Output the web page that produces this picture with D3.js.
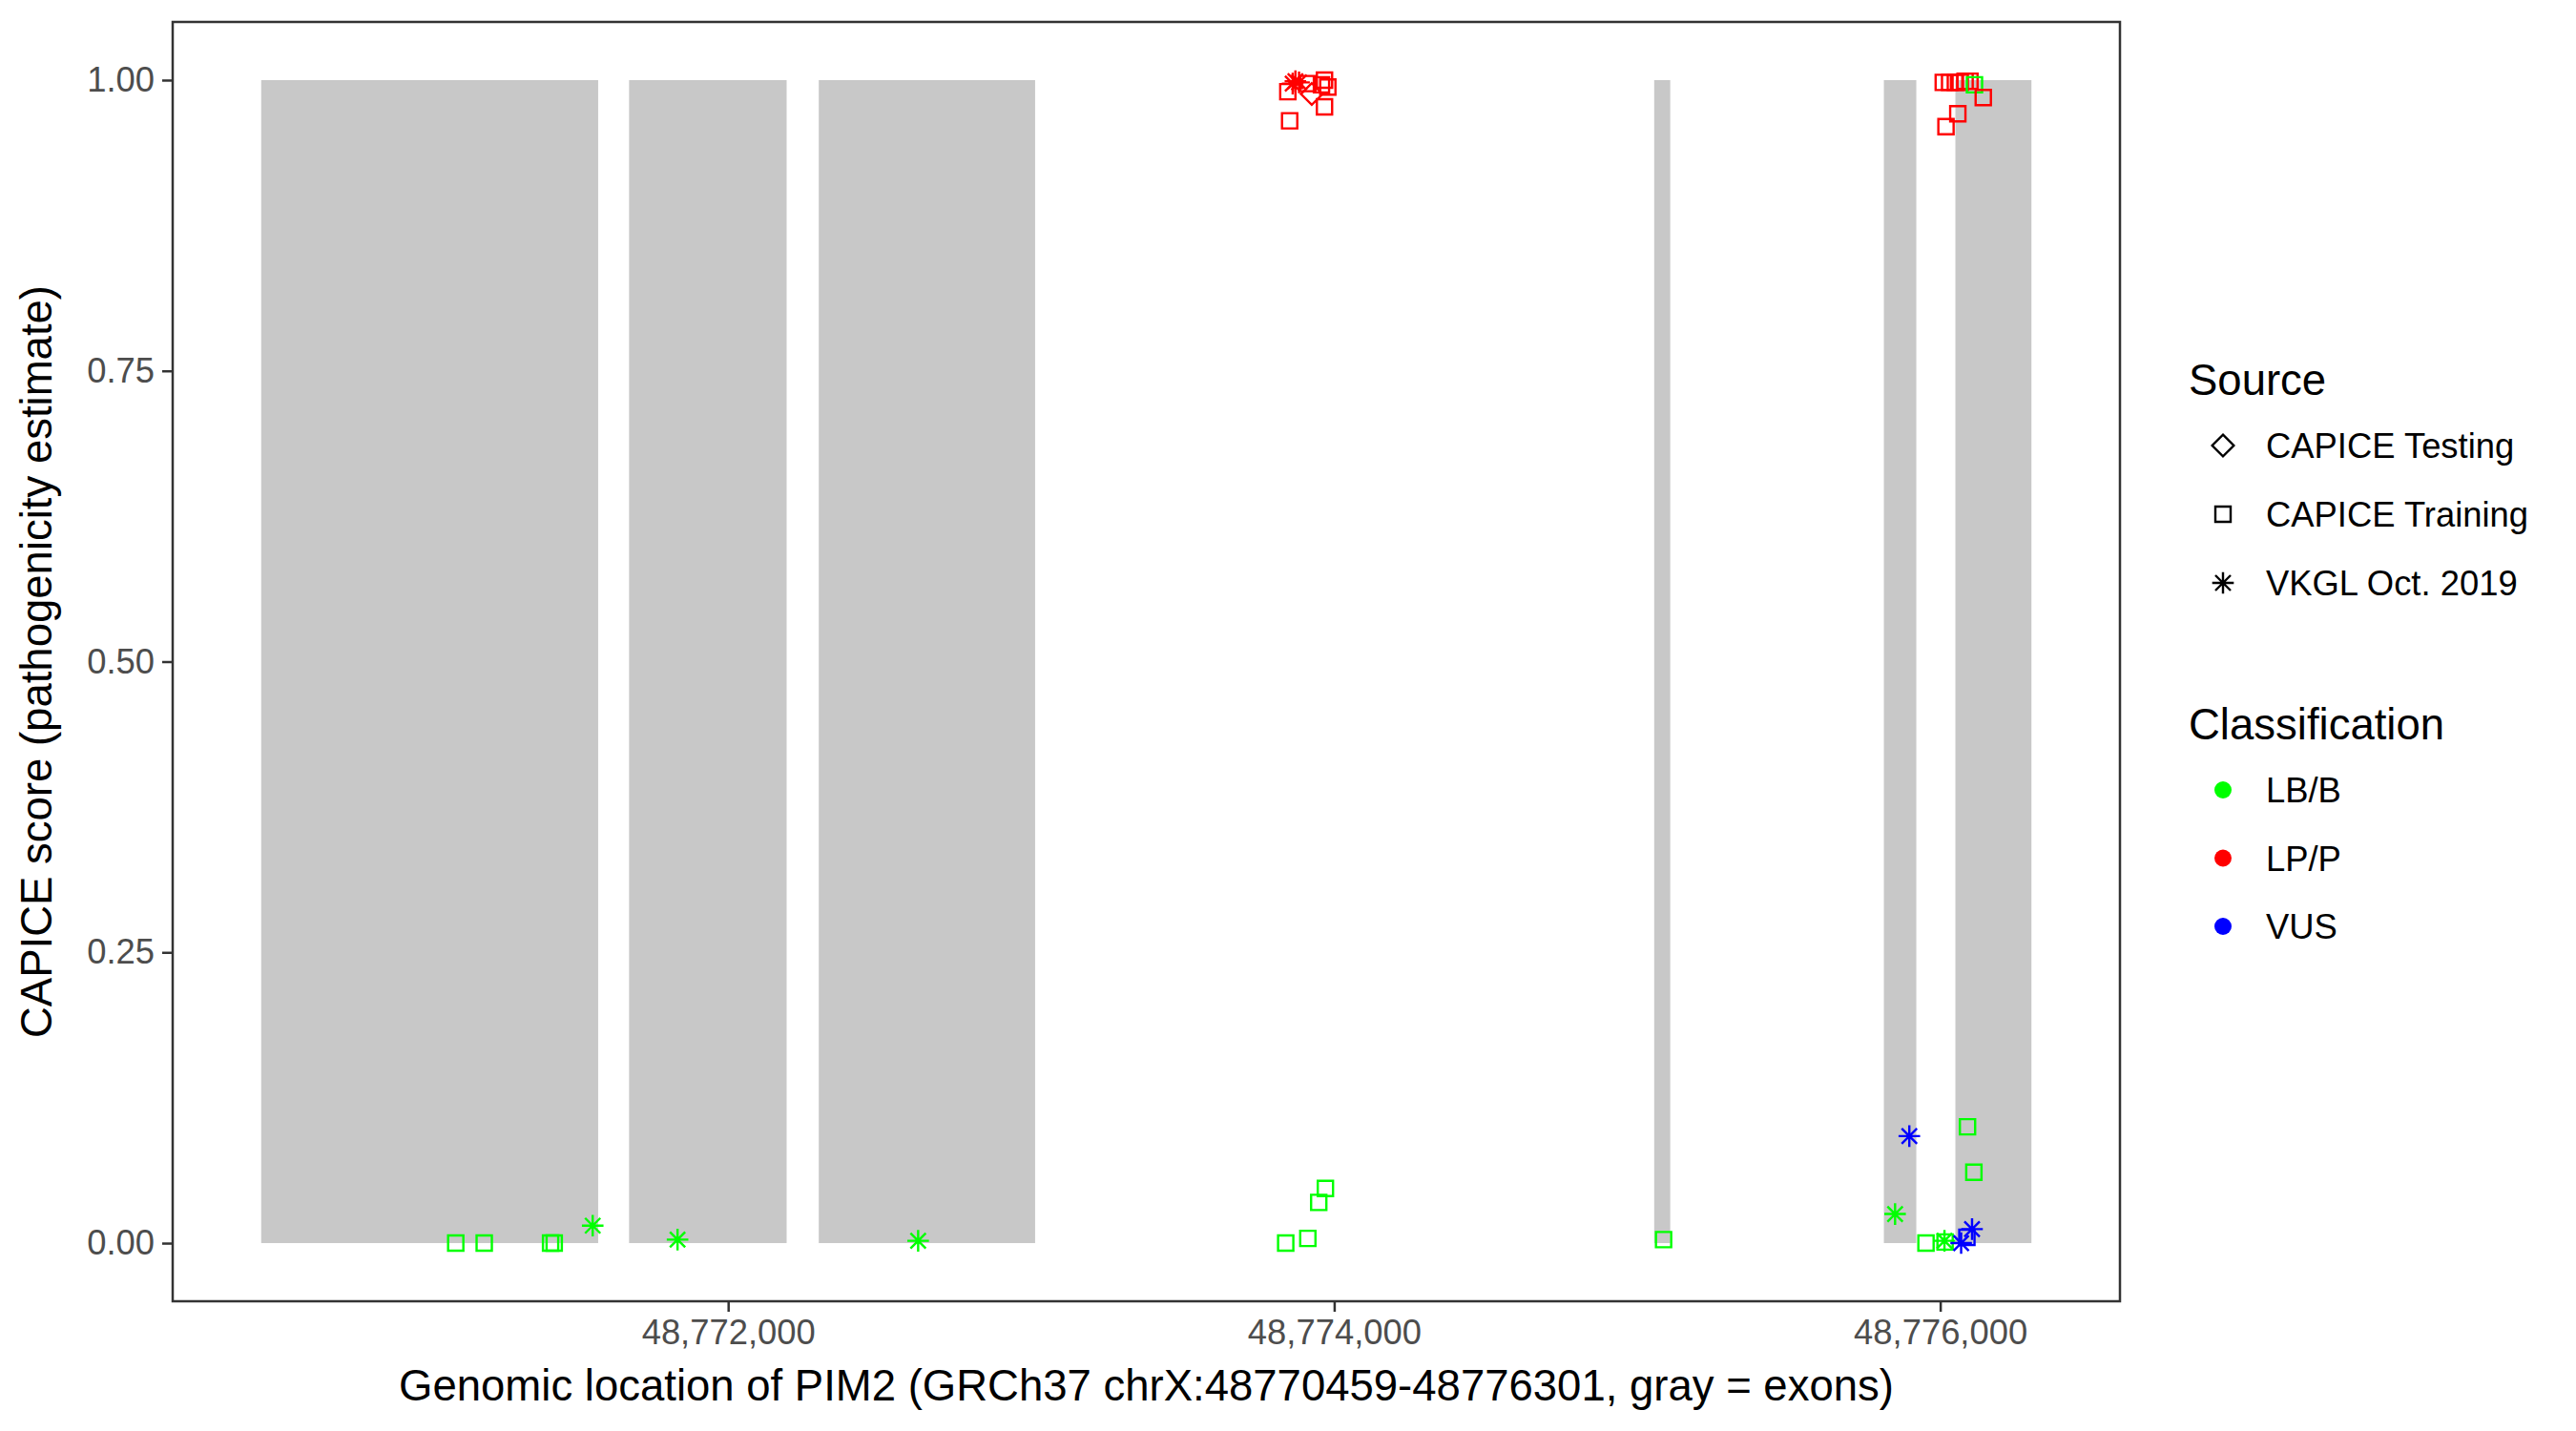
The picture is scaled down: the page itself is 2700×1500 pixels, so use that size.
<!DOCTYPE html>
<html>
<head>
<meta charset="utf-8">
<script src="https://cdn.jsdelivr.net/npm/d3@7"></script>
<style>
  html, body { margin: 0; padding: 0; background: #ffffff; }
  svg { display: block; font-family: "Liberation Sans", Arial, sans-serif; }
</style>
</head>
<body>
<div id="chart"></div>
<script>
// gene region and exons (GRCh37 chrX)
var geneStart = 48770459;
var geneEnd = 48776301;
var exonStarts = [48770459, 48771673, 48772299, 48775056, 48775814, 48776050];
var exonEnds   = [48771571, 48772193, 48773013, 48775109, 48775921, 48776301];

// variants: position, CAPICE score, source, classification
var varPos = [
  48771101, 48771195, 48771414, 48771426, 48771553, 48771833, 48772627,
  48773971, 48773949, 48773913, 48773840, 48775087,
  48775898, 48776090, 48776111, 48775851, 48775953, 48776014, 48776016,
  48776069, 48776105, 48776088,
  48773853, 48773847, 48773863, 48773884, 48773913, 48773926, 48773968,
  48773968, 48773979, 48773958, 48773872,
  48776010, 48776031, 48776050, 48776066, 48776082, 48776098, 48776113,
  48776142, 48776058, 48776019
];
var varScore = [
  0.000, 0.000, 0.000, 0.000, 0.015, 0.003, 0.002,
  0.047, 0.035, 0.004, 0.000, 0.003,
  0.092, 0.100, 0.061, 0.025, 0.000, 0.002, 0.001,
  0.000, 0.012, 0.005,
  0.965, 0.990, 0.997, 0.998, 0.997, 0.988, 0.977,
  1.000, 0.994, 0.996, 0.999,
  0.998, 0.998, 0.998, 0.998, 0.999, 0.999, 0.996,
  0.985, 0.971, 0.960
];
var varSource = [
  'Training', 'Training', 'Training', 'Training', 'VKGL', 'VKGL', 'VKGL',
  'Training', 'Training', 'Training', 'Training', 'Training',
  'VKGL', 'Training', 'Training', 'VKGL', 'Training', 'VKGL', 'Training',
  'VKGL', 'VKGL', 'Training',
  'Training', 'Training', 'VKGL', 'VKGL', 'Training', 'Testing', 'Training',
  'Training', 'Training', 'Training', 'VKGL',
  'Training', 'Training', 'Training', 'Training', 'Training', 'Training', 'Training',
  'Training', 'Training', 'Training'
];
var varClass = [
  'LB/B', 'LB/B', 'LB/B', 'LB/B', 'LB/B', 'LB/B', 'LB/B',
  'LB/B', 'LB/B', 'LB/B', 'LB/B', 'LB/B',
  'VUS', 'LB/B', 'LB/B', 'LB/B', 'LB/B', 'LB/B', 'LB/B',
  'VUS', 'VUS', 'VUS',
  'LP/P', 'LP/P', 'LP/P', 'LP/P', 'LP/P', 'LP/P', 'LP/P',
  'LP/P', 'LP/P', 'LP/P', 'LP/P',
  'LP/P', 'LP/P', 'LP/P', 'LP/P', 'LP/P', 'LP/P', 'LB/B',
  'LP/P', 'LP/P', 'LP/P'
];

// legend levels
var sourceKeys = ['Testing', 'Training', 'VKGL'];
var sourceLabels = ['CAPICE Testing', 'CAPICE Training', 'VKGL Oct. 2019'];
var classKeys = ['LB/B', 'LP/P', 'VUS'];
var classColors = ['#00ff00', '#ff0000', '#0000ff'];

// axis ticks
var xTicks = [48772000, 48774000, 48776000];
var yTicks = [0, 0.25, 0.5, 0.75, 1];

var width = 2700, height = 1500;
var panel = {left: 181, right: 2222, top: 23, bottom: 1364};

var svg = d3.select('#chart')
  .append('svg')
    .attr('width', width)
    .attr('height', height);

var pad = 0.05 * (geneEnd - geneStart);
var x = d3.scaleLinear()
  .domain([geneStart - pad, geneEnd + pad])
  .range([panel.left, panel.right]);
var y = d3.scaleLinear()
  .domain([-0.05, 1.05])
  .range([panel.bottom, panel.top]);
var color = d3.scaleOrdinal().domain(classKeys).range(classColors);

// point shapes like R pch 5 / 0 / 8
function shapePath(shape, r) {
  var d = r * Math.SQRT2;
  if (shape == 'Testing') {
    return 'M0,' + (-d) + 'L' + d + ',0L0,' + d + 'L' + (-d) + ',0Z';
  }
  if (shape == 'Training') {
    return 'M' + (-r) + ',' + (-r) + 'H' + r + 'V' + r + 'H' + (-r) + 'Z';
  }
  return 'M0,' + (-d) + 'V' + d + 'M' + (-d) + ',0H' + d +
    'M' + (-r) + ',' + (-r) + 'L' + r + ',' + r +
    'M' + (-r) + ',' + r + 'L' + r + ',' + (-r);
}

// exons
var exons = exonStarts.map(function(s, i) { return {start: s, end: exonEnds[i]}; });
svg.append('g')
  .selectAll('rect')
  .data(exons)
  .enter()
  .append('rect')
    .attr('x', function(d) { return x(d.start); })
    .attr('width', function(d) { return x(d.end) - x(d.start); })
    .attr('y', y(1))
    .attr('height', y(0) - y(1))
    .attr('fill', '#c8c8c8');

// variants
var points = varPos.map(function(p, i) {
  return {pos: p, score: varScore[i], source: varSource[i], cls: varClass[i]};
});
svg.append('g')
  .selectAll('path')
  .data(points)
  .enter()
  .append('path')
    .attr('transform', function(d) { return 'translate(' + x(d.pos) + ',' + y(d.score) + ')'; })
    .attr('d', function(d) { return shapePath(d.source, 8); })
    .attr('fill', 'none')
    .attr('stroke', function(d) { return color(d.cls); })
    .attr('stroke-width', 2.4);

// panel border
svg.append('rect')
  .attr('x', panel.left)
  .attr('y', panel.top)
  .attr('width', panel.right - panel.left)
  .attr('height', panel.bottom - panel.top)
  .attr('fill', 'none')
  .attr('stroke', '#333333')
  .attr('stroke-width', 2.5);

// axes
var xAxis = svg.append('g')
  .attr('transform', 'translate(0,' + panel.bottom + ')')
  .call(d3.axisBottom(x).tickValues(xTicks).tickFormat(d3.format(',')).tickSize(11).tickPadding(8));
var yAxis = svg.append('g')
  .attr('transform', 'translate(' + panel.left + ',0)')
  .call(d3.axisLeft(y).tickValues(yTicks).tickFormat(d3.format('.2f')).tickSize(11).tickPadding(8));
[xAxis, yAxis].forEach(function(ax) {
  ax.select('.domain').remove();
  ax.selectAll('line').attr('stroke', '#333333').attr('stroke-width', 2.5);
  ax.selectAll('text')
    .attr('fill', '#4d4d4d')
    .style('font-size', '36.4px')
    .style('font-family', '"Liberation Sans", Arial, sans-serif');
});

// axis titles
svg.append('text')
  .attr('x', (panel.left + panel.right) / 2)
  .attr('y', 1468)
  .attr('text-anchor', 'middle')
  .style('font-size', '45.5px')
  .text('Genomic location of PIM2 (GRCh37 chrX:48770459-48776301, gray = exons)');
svg.append('text')
  .attr('transform', 'translate(54,' + (panel.top + panel.bottom) / 2 + ') rotate(-90)')
  .attr('text-anchor', 'middle')
  .style('font-size', '45.5px')
  .text('CAPICE score (pathogenicity estimate)');

// legends
var legend = svg.append('g');
legend.append('text')
  .attr('x', 2294).attr('y', 414)
  .style('font-size', '45.5px')
  .text('Source');
sourceKeys.forEach(function(k, i) {
  var cy = 467 + i * 72;
  legend.append('path')
    .attr('transform', 'translate(2330,' + cy + ')')
    .attr('d', shapePath(k, 8))
    .attr('fill', 'none')
    .attr('stroke', '#000000')
    .attr('stroke-width', 2.4);
  legend.append('text')
    .attr('x', 2375).attr('y', cy + 13)
    .style('font-size', '36.4px')
    .text(sourceLabels[i]);
});
legend.append('text')
  .attr('x', 2294).attr('y', 775)
  .style('font-size', '45.5px')
  .text('Classification');
classKeys.forEach(function(k, i) {
  var cy = 828 + i * 71.5;
  legend.append('circle')
    .attr('cx', 2330).attr('cy', cy)
    .attr('r', 9)
    .attr('fill', color(k));
  legend.append('text')
    .attr('x', 2375).attr('y', cy + 13)
    .style('font-size', '36.4px')
    .text(k);
});
</script>
</body>
</html>
